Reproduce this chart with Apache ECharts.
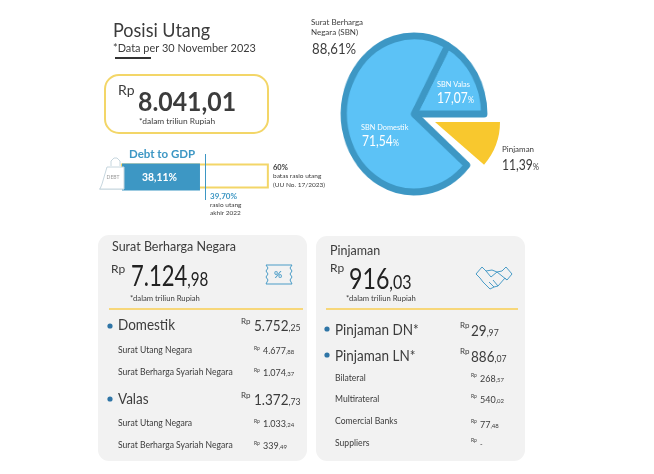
<!DOCTYPE html>
<html>
<head>
<meta charset="utf-8">
<style>
html, body { margin: 0; padding: 0; background: #fff; }
#pie { position: absolute; left: 0; top: 0; width: 654px; height: 474px; transform: scaleX(0.9); transform-origin: 414px 114px; }
#main { position: absolute; left: 0; top: 0; width: 654px; height: 474px; }
</style>
</head>
<body>
<div id="pie"></div>
<div id="main"></div>
<script src="https://cdn.jsdelivr.net/npm/echarts@6/dist/echarts.min.js"></script>
<script>
// data
const pieNames = ['SBN Valas', 'SBN Domestik', 'Pinjaman']
const pieValues = [17.07, 71.54, 11.39]
const sbnShare = 88.61
const totalDebt = 8041.01
const debtToGdp = 38.11
const debtLimit = 60
const debtLastYear = 39.70

const sbnTotal = 7124.98
const sbnLabels = ['Domestik', 'Surat Utang Negara', 'Surat Berharga Syariah Negara', 'Valas', 'Surat Utang Negara', 'Surat Berharga Syariah Negara']
const sbnValues = [5752.25, 4677.88, 1074.37, 1372.73, 1033.24, 339.49]

const loanTotal = 916.03
const loanLabels = ['Pinjaman DN*', 'Pinjaman LN*', 'Bilateral', 'Multirateral', 'Comercial Banks', 'Suppliers']
const loanValues = [29.97, 886.07, 268.57, 540.02, 77.48, null]

const FONT = 'Lato, "Noto Sans", sans-serif'
const DARK = '#3c3c3c'
const BLUE = '#3d97c4'
const YELLOW = '#f3d668'

const comma = (v) => v.toFixed(2).replace('.', ',')
const head = (v) => comma(v).split(',')[0].replace(/\B(?=(\d{3})+$)/g, '.')
const tail = (v) => ',' + comma(v).split(',')[1]

// the source picture is squeezed sideways, so texts take a scaleX (sx)
const text = (x, y, str, size, opts = {}) => ({
    type: 'text', x, y, silent: true, z: 10,
    scaleX: opts.sx || 1,
    style: {
        text: str,
        font: `${opts.weight || 'normal'} ${size}px ${FONT}`,
        fill: opts.fill || DARK,
        textVerticalAlign: 'middle',
        textAlign: opts.align || 'left'
    }
})

// big digits followed by smaller decimals, padding keeps both on one baseline
const pair = (x, y, first, second, big, small, fill, sx) => ({
    type: 'text', x, y, silent: true, z: 10,
    scaleX: sx,
    style: {
        text: `{a|${first}}{b|${second}}`,
        textVerticalAlign: 'middle',
        rich: {
            a: { fontFamily: 'Lato', fontSize: big, fill, verticalAlign: 'bottom' },
            b: { fontFamily: 'Lato', fontSize: small, fill, verticalAlign: 'bottom', padding: [0, 0, (big - small) * 0.2, 0] }
        }
    }
})
const money = (x, y, v, big, small, fill, sx) => pair(x, y, head(v), tail(v), big, small, fill || DARK, sx || 1)
const percent = (x, y, v, fill) => pair(x, y, comma(v), '%', 15.5, 10, fill, 0.78)

const card = (x, y, w, h) => ({
    type: 'rect', shape: { x, y, width: w, height: h, r: 11 }, silent: true, z: 1,
    style: { fill: '#f2f2f2' }
})

const hline = (x1, x2, y, color, width) => ({
    type: 'line', shape: { x1, y1: y, x2, y2: y }, silent: true, z: 5,
    style: { stroke: color, lineWidth: width }
})

const bullet = (x, y) => ({
    type: 'circle', shape: { cx: x, cy: y, r: 2.6 }, silent: true, z: 6,
    style: { fill: '#2f75a6' }
})

// outline drawings: icons only, not data
const outline = (points, x, y, stroke, fill) => ({
    type: fill ? 'polygon' : 'polyline', x, y, silent: true, z: 6,
    shape: { points },
    style: { stroke, lineWidth: 1, fill: fill || 'none' }
})

const elements = [
    card(98, 235, 209, 226),
    card(316, 236, 209, 225),

    // header
    text(113, 31, 'Posisi Utang', 20, { sx: 0.9 }),
    text(113, 48, '*Data per 30 November 2023', 11.5, { sx: 0.95 }),
    hline(115, 151, 58, '#333', 2),

    // total box
    { type: 'rect', shape: { x: 105, y: 75, width: 163, height: 58, r: 14 }, silent: true, z: 2, style: { fill: '#fff', stroke: YELLOW, lineWidth: 2 } },
    text(118, 90, 'Rp', 14),
    text(138, 102, head(totalDebt) + tail(totalDebt), 27, { weight: 'bold', sx: 0.92 }),
    text(139, 121, '*dalam triliun Rupiah', 8.4),

    // debt to gdp texts
    text(129, 154, 'Debt to GDP', 11.5, { weight: 'bold', fill: BLUE }),
    text(142, 177, comma(debtToGdp) + '%', 11.5, { weight: 'bold', fill: '#fff', sx: 0.9 }),
    outline([[7, 0], [24, 0], [24, 22], [0, 22], [2, 17]], 100, 167, '#c6d6de', '#fff'),
    outline([[4, 8], [4, 3], [7, 0], [10, 0], [13, 3], [13, 8]], 107, 158, '#c6d6de'),
    hline(99, 124, 189, '#c6d6de', 1),
    text(113, 177, 'DEBT', 5, { fill: '#9a9a9a', align: 'center' }),
    text(273, 168, debtLimit + '%', 7.5, { weight: 'bold' }),
    text(273, 176, 'batas rasio utang', 6.5),
    text(273, 185, '(UU No. 17/2023)', 6.5),
    text(210, 196, comma(debtLastYear) + '%', 8, { weight: 'bold', fill: BLUE }),
    text(210, 205, 'rasio utang', 6.5),
    text(210, 213, 'akhir 2022', 6.5),

    // pie texts
    text(311, 22, 'Surat Berharga', 8),
    text(311, 32, 'Negara (SBN)', 8),
    text(312, 49, comma(sbnShare) + '%', 15.5, { sx: 0.85 }),
    text(437, 84, pieNames[0], 8, { fill: '#fff', sx: 0.92 }),
    percent(437, 98, pieValues[0], '#fff'),
    text(361, 127, pieNames[1], 8, { fill: '#fff', sx: 0.92 }),
    percent(362, 141, pieValues[1], '#fff'),
    text(502, 149, pieNames[2], 8),
    percent(502, 165, pieValues[2], DARK),

    // SBN card
    text(112, 247, 'Surat Berharga Negara', 12.5),
    text(111, 269, 'Rp', 12),
    money(131, 277, sbnTotal, 29, 20, '#222', 0.76),
    text(130, 299, '*dalam triliun Rupiah', 7.7),
    hline(109, 303, 309, '#f7d77a', 2),
    bullet(110, 326), bullet(110, 399),
    outline([[0, 0], [26, 0], [24, 3], [26, 6], [24, 9], [26, 12], [24, 15], [26, 19], [0, 19], [2, 15], [0, 12], [2, 9], [0, 6], [2, 3]], 266, 265, '#4a9cc7', '#f2f2f2'),
    text(278, 275, '%', 10, { fill: '#4a9cc7', weight: 'bold', align: 'center' }),

    // loan card
    text(330, 251, 'Pinjaman', 12.5),
    text(330, 268, 'Rp', 12),
    money(349, 280, loanTotal, 29, 20, '#222', 0.8),
    text(346, 299, '*dalam triliun Rupiah', 7.7),
    hline(326, 518, 309, '#f7d77a', 2),
    bullet(327, 329), bullet(327, 355),
    outline([[0, 7], [6, 0], [10, 4], [16, 3], [21, 5], [26, 4], [30, 0], [36, 7], [31, 13], [29, 11], [22, 19], [18, 20], [14, 22], [7, 15], [4, 11], [0, 7]], 476, 267, '#4a9cc7'),
    outline([[10, 4], [15, 10], [21, 5], [31, 13]], 476, 267, '#4a9cc7'),
    outline([[22, 19], [17, 13]], 476, 267, '#4a9cc7'),
    outline([[18, 20], [13, 15]], 476, 267, '#4a9cc7')
]

// rows of the SBN card
const sbnY = [325, 350, 372, 399, 423, 445]
sbnLabels.forEach((label, i) => {
    const major = i === 0 || i === 3
    elements.push(text(118, sbnY[i], label, major ? 15.5 : 8.6, { sx: major ? 0.87 : 1 }))
    elements.push(text(major ? 241 : 254, sbnY[i] + (major ? -4 : -2), 'Rp', major ? 8 : 5))
    elements.push(money(major ? 254 : 263, sbnY[i] + 1, sbnValues[i], major ? 15.5 : 9, major ? 10 : 6, DARK, major ? 0.87 : 1))
})

// rows of the loan card
const loanY = [330, 356, 378, 399, 421, 443]
const loanValueY = [331, 357, 379, 400, 425, 444]
loanLabels.forEach((label, i) => {
    const major = i < 2
    elements.push(text(335, loanY[i], label, major ? 15.5 : 8.6, { sx: major ? 0.87 : 1 }))
    elements.push(text(major ? 460 : 471, loanValueY[i] + (major ? -6 : -4), 'Rp', major ? 8 : 5))
    if (loanValues[i] === null) {
        elements.push(text(480, loanValueY[i] + 1, '-', 7))
    } else {
        elements.push(money(major ? 471 : 480, loanValueY[i], loanValues[i], major ? 15.5 : 9, major ? 10 : 6, DARK, major ? 0.87 : 1))
    }
})

// main blue pie, squeezed a little by the css on #pie
const pieChart = echarts.init(document.getElementById('pie'))
pieChart.setOption({
    animation: false,
    series: [{
        type: 'pie',
        center: [414, 114],
        radius: [0, 78],
        startAngle: 0,
        clockwise: false,
        silent: true,
        label: { show: false },
        labelLine: { show: false },
        data: pieNames.map((name, i) => ({
            name,
            value: pieValues[i],
            itemStyle: i === 2
                ? { color: 'transparent', borderWidth: 0 }
                : { color: '#5cc2f6', borderColor: BLUE, borderWidth: 7 }
        }))
    }]
})

const myChart = echarts.init(document.getElementById('main'))
myChart.setOption({
    animation: false,
    graphic: { elements },
    grid: { left: 122, top: 154, width: 150, height: 46 },
    xAxis: { type: 'value', min: 13.33, max: 61, show: false },
    yAxis: { type: 'category', data: ['Debt to GDP'], show: false },
    series: [
        {
            type: 'bar',
            data: [debtLimit],
            barWidth: 25,
            barGap: '-100%',
            silent: true,
            itemStyle: { color: '#fff', borderColor: YELLOW, borderWidth: 2 }
        },
        {
            type: 'bar',
            data: [debtToGdp],
            barWidth: 27,
            silent: true,
            itemStyle: { color: BLUE },
            markLine: {
                silent: true,
                symbol: 'none',
                label: { show: false },
                lineStyle: { color: BLUE, width: 1, type: 'solid' },
                data: [{ xAxis: debtLastYear }]
            }
        },
        {
            // yellow slice, pulled out of the main pie
            type: 'pie',
            center: [435, 122],
            radius: [0, 65],
            startAngle: 0,
            silent: true,
            label: { show: false },
            labelLine: { show: false },
            data: [
                { name: pieNames[2], value: pieValues[2], itemStyle: { color: '#f8c82e' } },
                { name: '', value: pieValues[0] + pieValues[1], itemStyle: { color: 'transparent' } }
            ]
        }
    ]
})
</script>
</body>
</html>
